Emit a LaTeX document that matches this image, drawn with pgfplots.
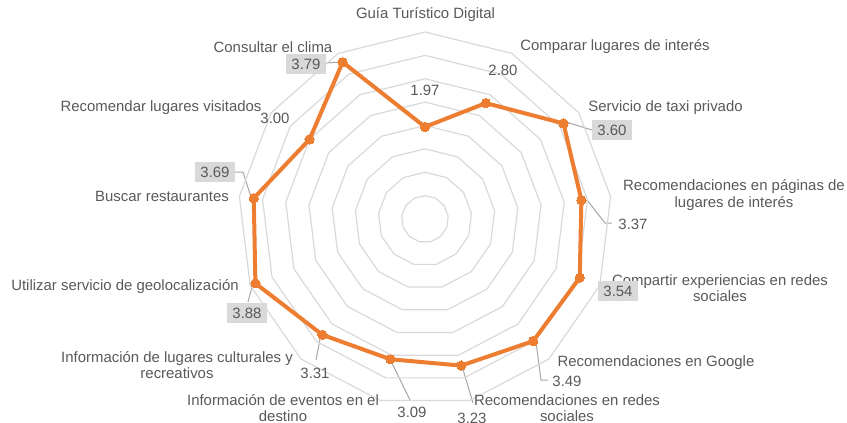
\documentclass[border=0pt]{standalone}
\usepackage{pgfplots}
\pgfplotsset{compat=1.18}
\usepgfplotslibrary{polar}
\usepackage{pgfplotstable}
\usepackage{fontspec}
\setmainfont{Liberation Sans}
\definecolor{txt}{HTML}{595959}
\definecolor{gridc}{HTML}{D9D9D9}
\definecolor{lead}{HTML}{A6A6A6}
\definecolor{boxc}{HTML}{D9D9D9}
\definecolor{orng}{HTML}{ED7D31}

% angle (deg, counterclockwise from east) and value; starts at top, runs clockwise
\pgfplotstableread{
a v
90 1.97
62.3077 2.80
34.6154 3.60
6.9231 3.37
-20.7692 3.54
-48.4615 3.49
-76.1538 3.23
-103.8462 3.09
-131.5385 3.31
-159.2308 3.88
-186.9231 3.69
-214.6154 3.00
-242.3077 3.79
-270 1.97
}\datatable

\begin{document}
\begin{tikzpicture}[x=0.75pt,y=0.75pt,font=\fontsize{11.2}{12.5}\selectfont, every node/.style={text=txt}]
\useasboundingbox (-425,-203) rectangle (422,219);
% leader lines
\begin{scope}[draw=lead, line width=0.75pt]
\draw (141,97) -- (167,89);
\draw (162,19) -- (180,-4) -- (187,-4);
\draw (111,-123) -- (116,-161) -- (123,-161);
\draw (37,-147) -- (48,-184);
\draw (-35,-140) -- (-15,-181);
\draw (-104,-115) -- (-109,-141);
\draw (-172,-64) -- (-177,-83);
\draw (-190,47) -- (-182,47) -- (-174,22);
\draw (-100,156) -- (-84,157);
\end{scope}
\begin{polaraxis}[
  at={(0,0)}, anchor=origin,
  scale only axis, width=280.5pt, height=280.5pt,
  ymin=0, ymax=4,
  hide axis, xtick=\empty, ytick=\empty,
  clip=false,
]
\pgfplotsinvokeforeach{0.5,1,1.5,2,2.5,3,3.5,4}{
  \addplot[gridc, line width=0.9pt, no markers] table[x=a, y expr=#1] {\datatable};
}
\addplot[orng, line width=3pt, mark=*, mark size=3.5pt, mark options={fill=orng, draw=orng, line width=0pt}] table[x=a, y=v] {\datatable};
\end{polaraxis}
% category labels
\node at (0.5,204) {Guía Turístico Digital};
\node at (190,172) {Comparar lugares de interés};
\node at (240.5,111) {Servicio de taxi privado};
\node[align=center] at (309,24) {Recomendaciones en páginas de\\lugares de interés};
\node[align=center] at (295,-69) {Compartir experiencias en redes\\sociales};
\node at (231,-144) {Recomendaciones en Google};
\node[align=center] at (142,-189) {Recomendaciones en redes\\sociales};
\node[align=center] at (-142,-189) {Información de eventos en el\\destino};
\node[align=center] at (-248,-146) {Información de lugares culturales y\\recreativos};
\node at (-300,-68) {Utilizar servicio de geolocalización};
\node at (-263,23) {Buscar restaurantes};
\node at (-264,111) {Recomendar lugares visitados};
\node at (-152,172) {Consultar el clima};
% data labels
\tikzset{bx/.style={fill=boxc, inner xsep=4pt, inner ysep=0pt, minimum height=15pt}}
\node at (0,129) {1.97};
\node at (78,149) {2.80};
\node[bx] at (187,89) {3.60};
\node at (208,-5) {3.37};
\node[bx] at (193,-72) {3.54};
\node at (142,-162) {3.49};
\node at (47,-199) {3.23};
\node at (-13,-193) {3.09};
\node at (-110,-154) {3.31};
\node[bx] at (-178,-94) {3.88};
\node[bx] at (-210,47) {3.69};
\node at (-150,101) {3.00};
\node[bx] at (-119,155) {3.79};
\end{tikzpicture}
\end{document}
